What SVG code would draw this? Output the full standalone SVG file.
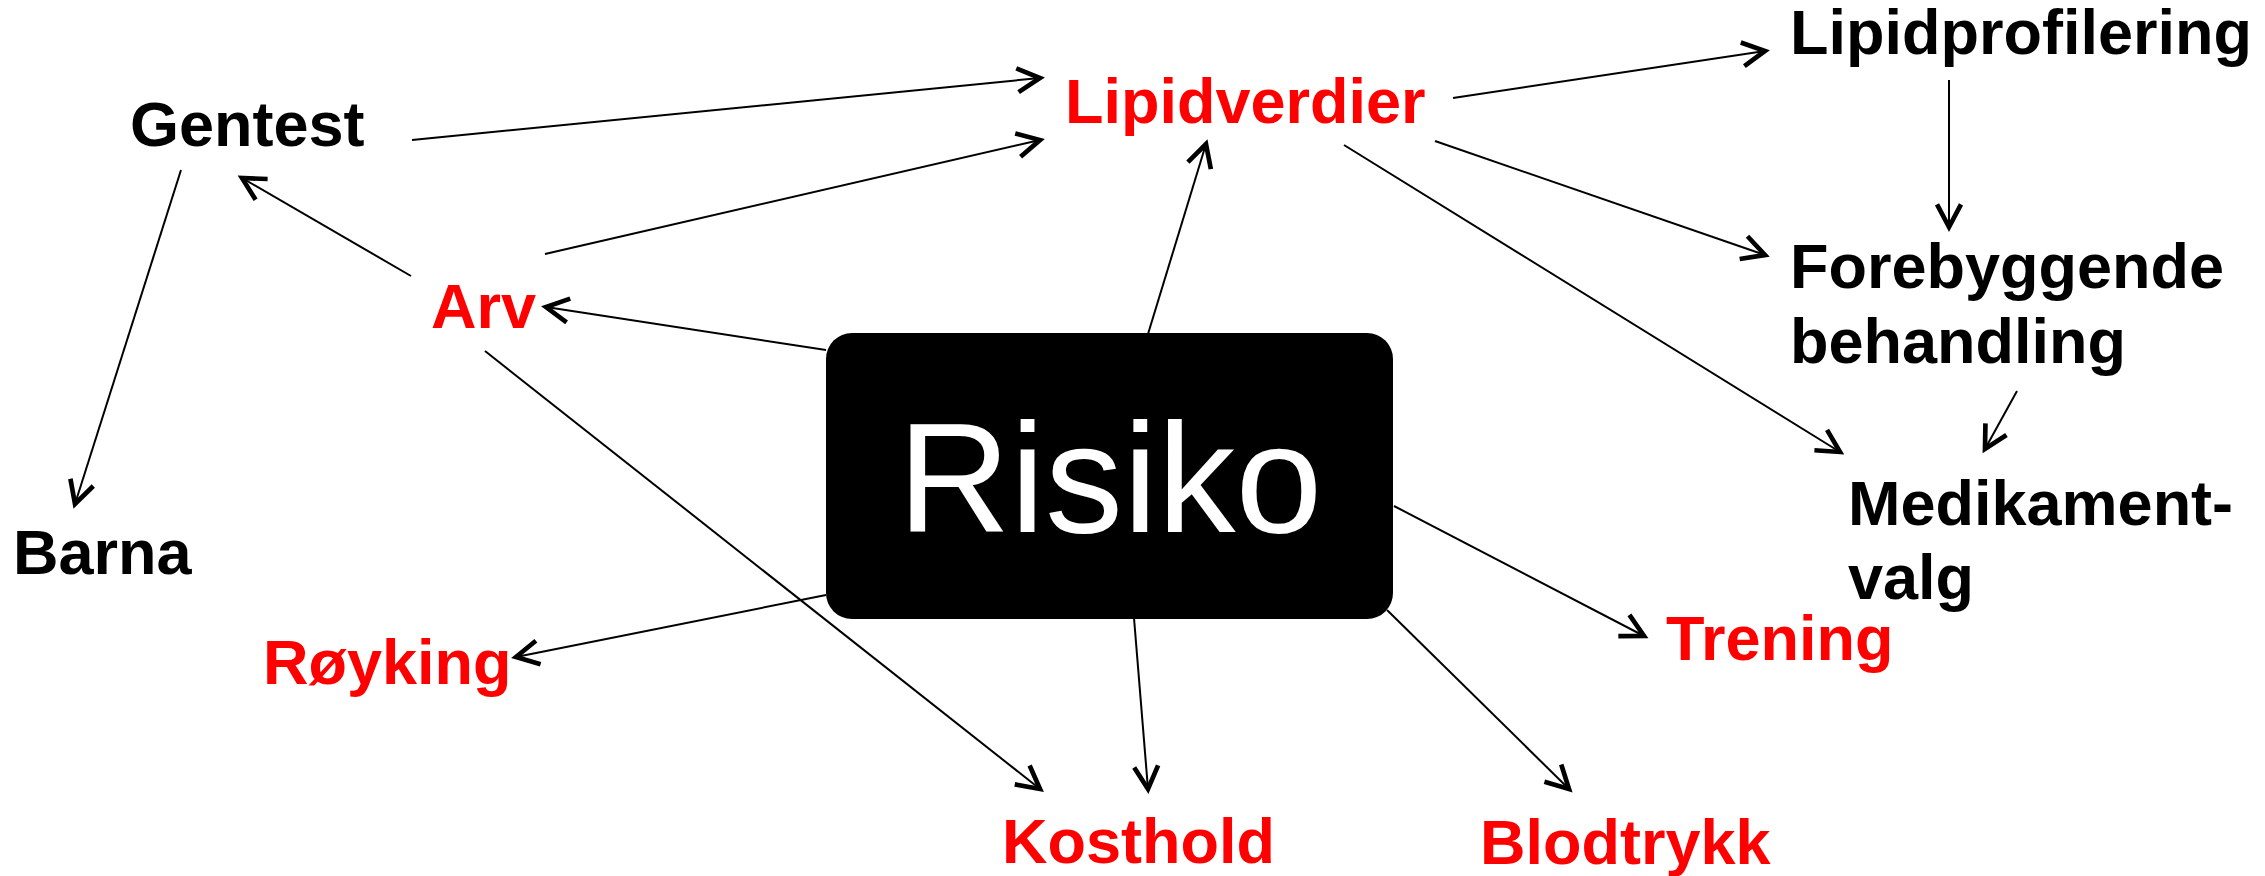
<svg xmlns="http://www.w3.org/2000/svg" width="2265" height="876" viewBox="0 0 2265 876">
<style>
.lbl{font-family:"Liberation Sans",Arial,sans-serif;font-weight:bold;font-size:63px}
.red{fill:#ff0000}
.blk{fill:#000000}
.c{stroke:#000;stroke-width:2;fill:none}
</style>
<defs>
<marker id="ah" markerUnits="userSpaceOnUse" markerWidth="40" markerHeight="40" refX="0" refY="0" viewBox="-20 -15 25 30" orient="auto" overflow="visible">
<path d="M-17,-9 L0,0 L-17,9" fill="none" stroke="#000" stroke-width="3.5" stroke-linejoin="miter"/>
</marker>
</defs>
<rect width="2265" height="876" fill="#fff"/>
<g id="connectors">
<line class="c" x1="412" y1="140" x2="1040" y2="78" marker-end="url(#ah)"/>
<line class="c" x1="545" y1="254" x2="1040" y2="140" marker-end="url(#ah)"/>
<line class="c" x1="411" y1="276" x2="242" y2="178" marker-end="url(#ah)"/>
<line class="c" x1="181" y1="170" x2="75" y2="504" marker-end="url(#ah)"/>
<line class="c" x1="826" y1="350" x2="546" y2="307" marker-end="url(#ah)"/>
<line class="c" x1="485" y1="351" x2="1040" y2="789" marker-end="url(#ah)"/>
<line class="c" x1="826" y1="595" x2="516" y2="657" marker-end="url(#ah)"/>
<line class="c" x1="1148" y1="334" x2="1206" y2="144" marker-end="url(#ah)"/>
<line class="c" x1="1453" y1="98" x2="1765" y2="51" marker-end="url(#ah)"/>
<line class="c" x1="1949" y1="80" x2="1949" y2="227" marker-end="url(#ah)"/>
<line class="c" x1="1435" y1="141" x2="1765" y2="255" marker-end="url(#ah)"/>
<line class="c" x1="1344" y1="145" x2="1840" y2="452" marker-end="url(#ah)"/>
<line class="c" x1="2017" y1="391" x2="1985" y2="449" marker-end="url(#ah)"/>
<line class="c" x1="1394" y1="506" x2="1644" y2="636" marker-end="url(#ah)"/>
<line class="c" x1="1134" y1="618" x2="1148" y2="789" marker-end="url(#ah)"/>
<line class="c" x1="1387" y1="610" x2="1569" y2="789" marker-end="url(#ah)"/>
</g>
<g id="risiko">
<rect x="826" y="333" width="567" height="286" rx="26" ry="26" fill="#000"/>
<text x="1110" y="532" text-anchor="middle" font-family="Liberation Sans, Arial, sans-serif" font-size="156" fill="#fff">Risiko</text>
</g>
<g id="gentest"><text class="lbl blk" x="130" y="146">Gentest</text></g>
<g id="arv"><text class="lbl red" x="431" y="328">Arv</text></g>
<g id="barna"><text class="lbl blk" x="13" y="574">Barna</text></g>
<g id="royking"><text class="lbl red" x="263" y="684">Røyking</text></g>
<g id="kosthold"><text class="lbl red" x="1002" y="863">Kosthold</text></g>
<g id="blodtrykk"><text class="lbl red" x="1480" y="864">Blodtrykk</text></g>
<g id="trening"><text class="lbl red" x="1666" y="660">Trening</text></g>
<g id="lipidverdier"><text class="lbl red" x="1065" y="123">Lipidverdier</text></g>
<g id="lipidprofilering"><text class="lbl blk" x="1790" y="54">Lipidprofilering</text></g>
<g id="forebyggende"><text class="lbl blk" x="1790" y="288">Forebyggende</text><text class="lbl blk" x="1790" y="363">behandling</text></g>
<g id="medikament"><text class="lbl blk" x="1848" y="525">Medikament-</text><text class="lbl blk" x="1848" y="599">valg</text></g>
</svg>
